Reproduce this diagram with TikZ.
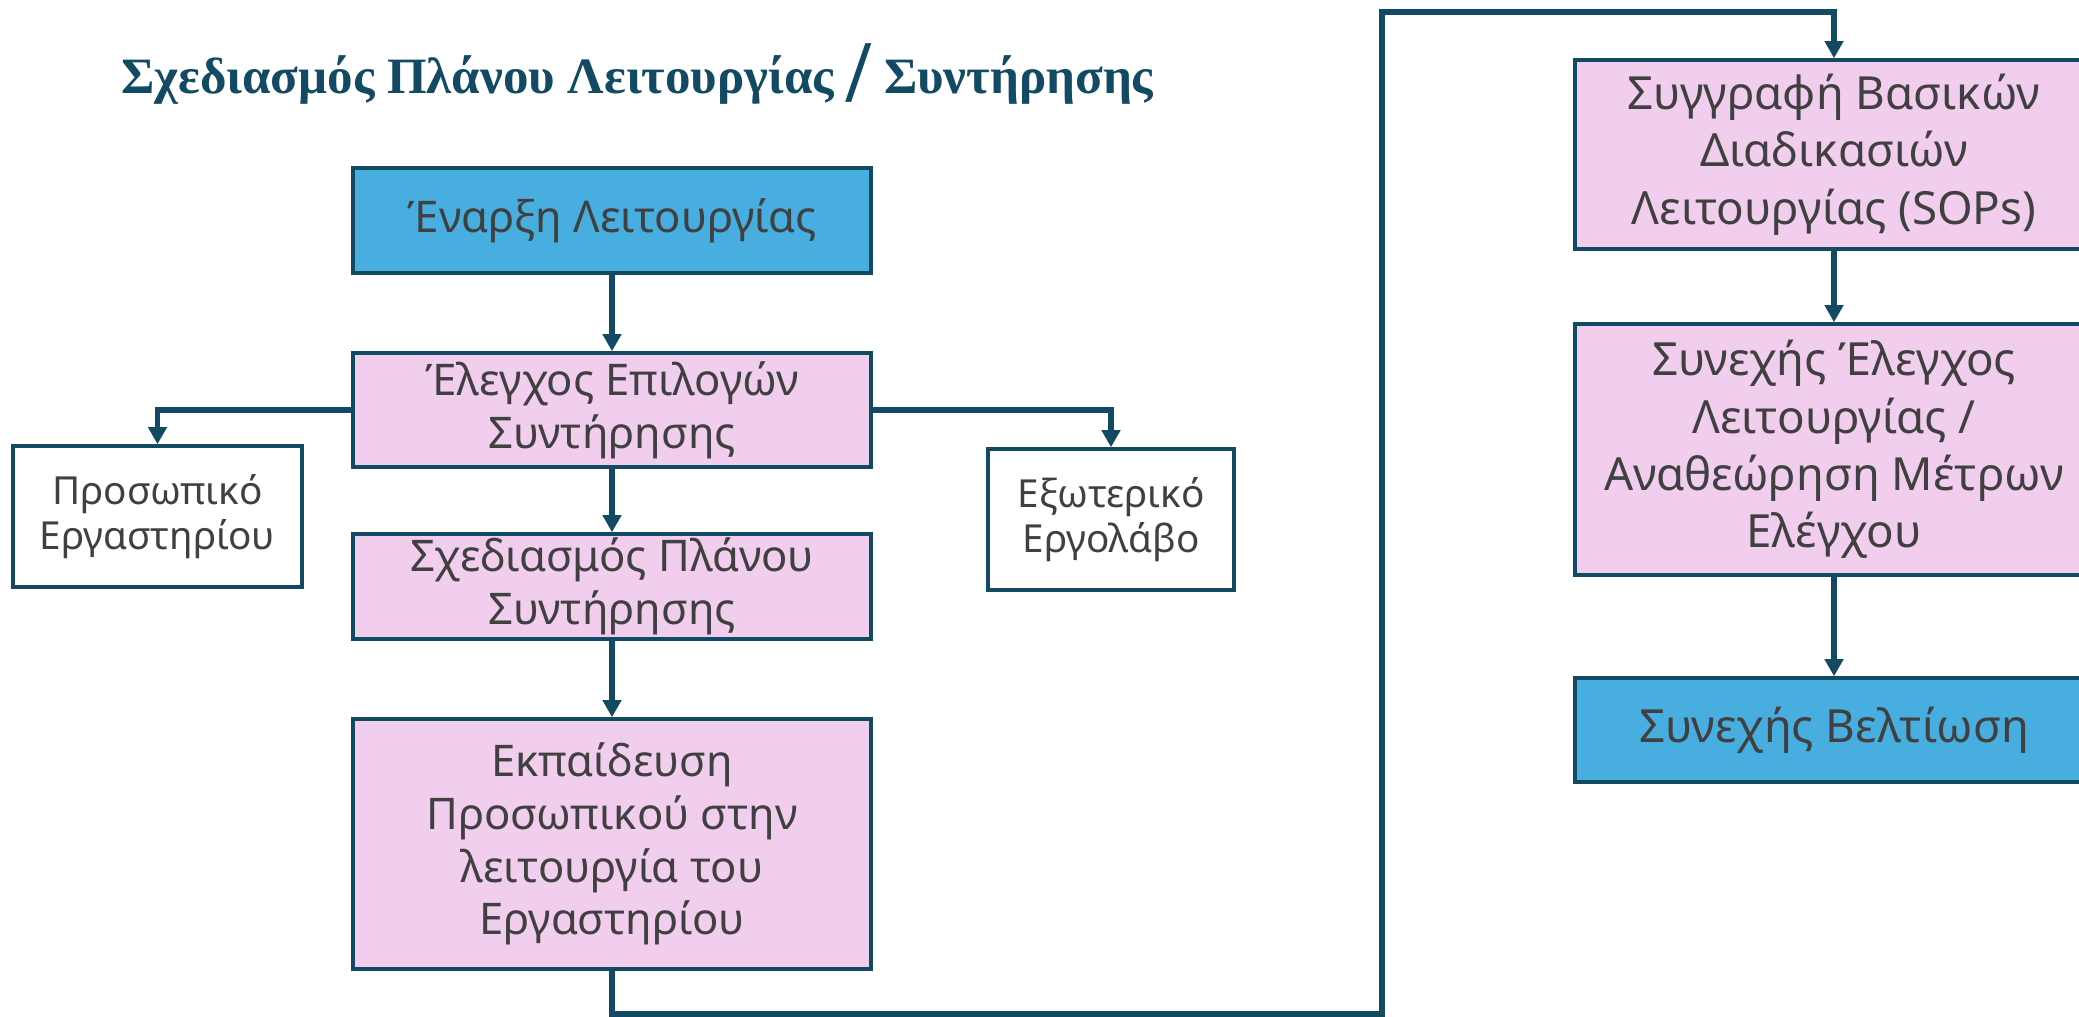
\documentclass[tikz,border=0pt]{standalone}
\usepackage{fontspec}
\setmainfont{Noto Sans}
\newfontfamily\titlefont{Liberation Serif}
\usetikzlibrary{arrows.meta}
\definecolor{navy}{HTML}{134A63}
\definecolor{boxblue}{HTML}{47AEDF}
\definecolor{boxpink}{HTML}{F2CEEE}
\definecolor{txtgray}{HTML}{404040}
\tikzset{>={Triangle[length=0.17cm,width=0.18cm]}}
\tikzset{
  box/.style={draw=navy,line width=1pt,text=txtgray,align=center,inner sep=0pt,
    minimum width=5.18cm,font=\fontsize{12.4}{15}\selectfont},
  bluebox/.style={box,fill=boxblue},
  pinkbox/.style={box,fill=boxpink},
  rightbox/.style={box,font=\fontsize{13}{16.3}\selectfont},
  sidebox/.style={box,fill=white,font=\fontsize{11}{13}\selectfont},
  link/.style={draw=navy,line width=1.5pt,->}
}

\begin{document}
\begin{tikzpicture}
\useasboundingbox (0,0) rectangle (20.79,10.17);
\node[text=navy,font=\titlefont\bfseries\fontsize{14.5}{17}\selectfont] (title) at (6.375,9.43)
  {Σχεδιασμός Πλάνου Λειτουργίας \raisebox{-2.5pt}{\fontsize{25}{25}\selectfont/} Συντήρησης};
\node[bluebox,minimum height=1.05cm] (start) at (6.12,7.965) {Έναρξη Λειτουργίας};
\node[pinkbox,minimum height=1.14cm] (options) at (6.12,6.07) {Έλεγχος Επιλογών\\Συντήρησης};
\node[pinkbox,minimum height=1.05cm] (plan) at (6.12,4.305) {Σχεδιασμός Πλάνου\\Συντήρησης};
\node[pinkbox,minimum height=2.50cm] (training) at (6.12,1.73)
  {Εκπαίδευση\\Προσωπικού στην\\λειτουργία του\\Εργαστηρίου};
\node[sidebox,minimum width=2.89cm,minimum height=1.41cm] (staff) at (1.575,5.005) {Προσωπικό\\Εργαστηρίου};
\node[sidebox,minimum width=2.46cm,minimum height=1.41cm] (contractor) at (11.11,4.975) {Εξωτερικό\\Εργολάβο};
\node[pinkbox,rightbox,minimum height=1.89cm] (sops) at (18.34,8.625)
  {Συγγραφή Βασικών\\Διαδικασιών\\Λειτουργίας (SOPs)};
\node[pinkbox,rightbox,minimum height=2.51cm] (review) at (18.34,5.675)
  {Συνεχής Έλεγχος\\Λειτουργίας /\\Αναθεώρηση Μέτρων\\Ελέγχου};
\node[bluebox,rightbox,minimum height=1.04cm] (improve) at (18.34,2.87) {Συνεχής Βελτίωση};
\coordinate (low) at (13.82,0.03);
\coordinate (high) at (13.82,10.05);
\draw[link] (start) -- (options);
\draw[link] (options) -- (plan);
\draw[link] (plan) -- (training);
\draw[link] (options.west) -| (staff.north);
\draw[link] (options.east) -| (contractor.north);
\draw[link] (training.south) |- (low) -- (high) -| (sops.north);
\draw[link] (sops) -- (review);
\draw[link] (review) -- (improve);
\end{tikzpicture}
\end{document}
